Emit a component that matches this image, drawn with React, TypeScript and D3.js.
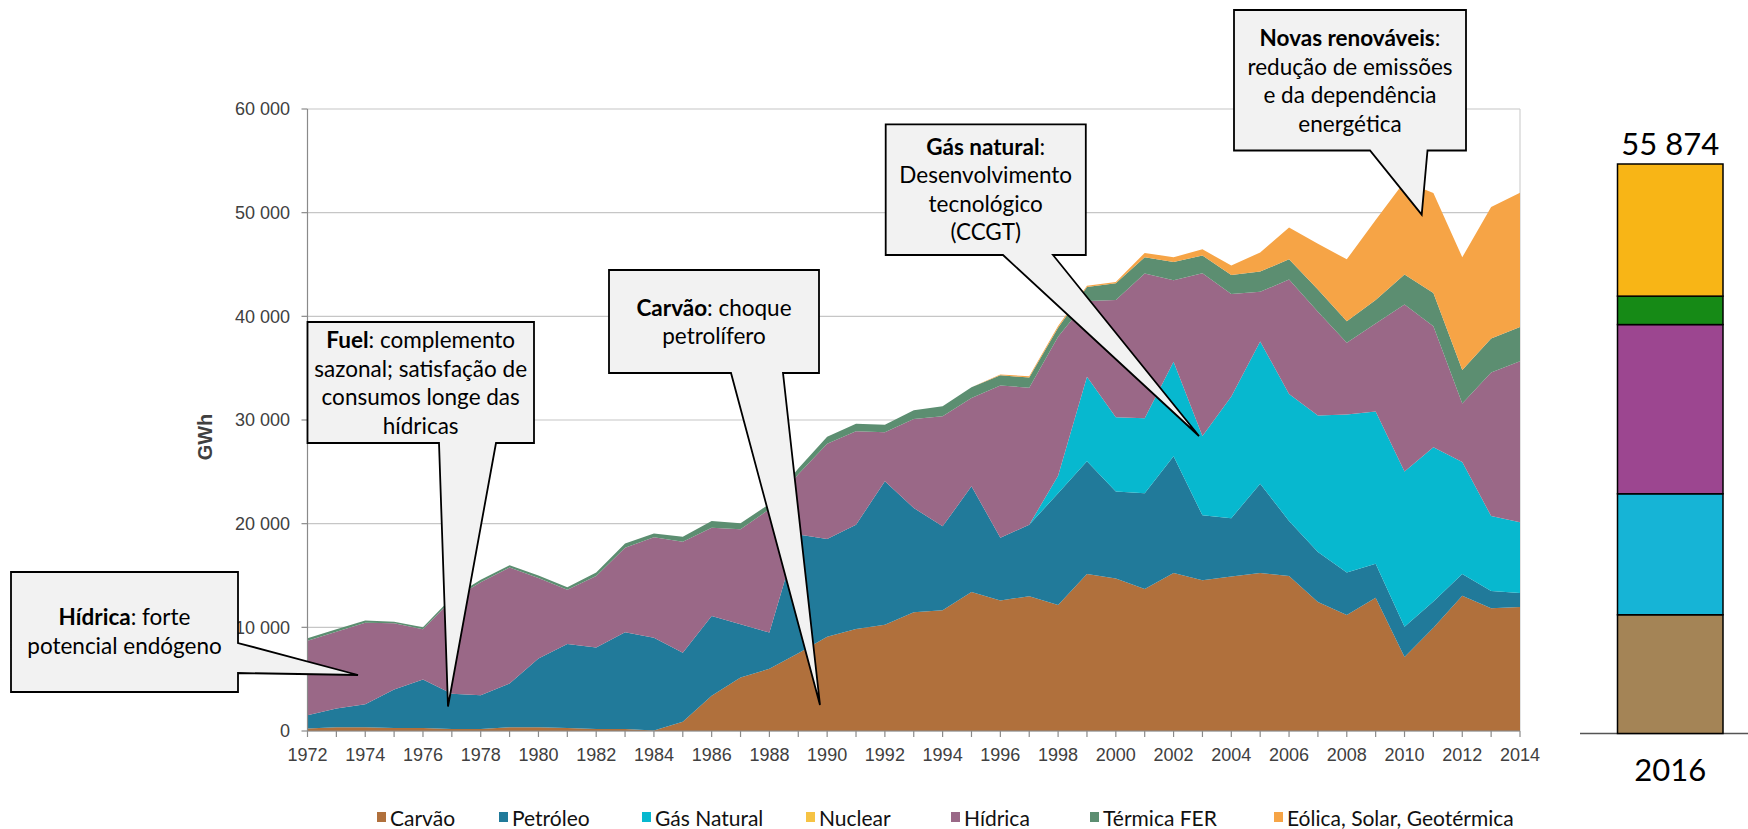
import React from 'react';
import * as d3 from 'd3';

// ---------- DATA ----------
const years = [1972,1973,1974,1975,1976,1977,1978,1979,1980,1981,1982,1983,1984,1985,1986,1987,1988,1989,1990,1991,1992,1993,1994,1995,1996,1997,1998,1999,2000,2001,2002,2003,2004,2005,2006,2007,2008,2009,2010,2011,2012,2013,2014];

const carvao = [250,350,350,300,300,200,200,350,350,300,200,200,50,900,3400,5150,6000,7500,9100,9850,10250,11450,11650,13400,12600,13000,12150,15150,14700,13700,15250,14550,14900,15250,14950,12450,11200,12850,7150,9950,13050,11850,11950];
const petroleo = [1270,1810,2230,3700,4670,3400,3250,4230,6650,8100,7850,9330,8950,6650,7700,5150,3500,11450,9430,10050,13830,10060,8090,10200,6050,6900,10780,10880,8400,9230,11250,6250,5630,8600,5310,4820,4100,3290,2900,2530,2100,1650,1350];
const gasNatural = [0,0,0,0,0,0,0,0,0,0,0,0,0,0,0,0,0,0,0,0,0,0,0,0,0,0,1690,8140,7170,7240,9120,7650,11730,13730,12240,13170,15220,14690,14980,14900,10800,7240,6830];
const nuclear = [0,0,0,0,0,0,0,0,0,0,0,0,0,0,0,0,0,0,0,0,0,0,0,0,0,0,0,0,0,0,0,0,0,0,0,0,0,0,0,0,0,0,0];
const hidrica = [7190,7420,7870,6390,4840,9050,10900,11190,7760,5220,6900,8150,9680,10710,8510,9150,11900,5820,9190,9010,4730,8590,10610,8520,14690,13210,13420,7320,11310,13960,7860,15710,9900,4780,11060,10010,6930,8470,16120,11670,5650,13830,15530];
const termicaFER = [230,230,200,160,190,220,230,230,240,240,350,400,380,480,640,580,500,550,660,740,740,830,970,1030,970,990,860,1330,1620,1560,1750,1700,1820,1960,1940,2130,2070,2280,2880,3200,3220,3280,3300];
const eolicaSolarGeo = [0,0,0,0,0,0,0,0,0,0,0,0,0,0,0,0,0,0,0,0,0,0,0,20,90,120,170,140,100,430,470,600,930,1840,3070,4410,5980,7720,8970,9650,10880,12700,12970];

const seriesNames = ['Carvão','Petróleo','Gás Natural','Nuclear','Hídrica','Térmica FER','Eólica, Solar, Geotérmica'];
const seriesColors = ['#B0703C','#217A9A','#07B8CF','#F6C344','#9A6887','#5C8E71','#F6A446'];

const yTicks = [0,10000,20000,30000,40000,50000,60000];
const xLabelYears = [1972,1974,1976,1978,1980,1982,1984,1986,1988,1990,1992,1994,1996,1998,2000,2002,2004,2006,2008,2010,2012,2014];

// 2016 bar
const bar2016Names = ['Carvão','Gás Natural','Hídrica','Térmica FER','Eólica, Solar, Geotérmica'];
const bar2016Values = [11650,11870,16600,2790,12964];
const bar2016Colors = ['#A48456','#16B4D6','#9C4690','#168A16','#F8B516'];
const bar2016Total = 55874;
const bar2016Label = '2016';

// ---------- LAYOUT ----------
const legendX = [377,499,642,806,951,1090,1274];

type Seg = [string, boolean];
interface Callout {
  box: [number, number, number, number];
  side: 'right' | 'bottom';
  base: [number, number];
  tip: [number, number];
  cx: number;
  baselines: number[];
  lines: Seg[][];
}

const callouts: Callout[] = [
  {
    box: [11, 572, 238, 692], side: 'right', base: [643, 673], tip: [358, 675], cx: 124.5,
    baselines: [625, 654],
    lines: [[['Hídrica', true], [': forte', false]], [['potencial endógeno', false]]],
  },
  {
    box: [307.5, 322, 534, 443], side: 'bottom', base: [439, 496], tip: [448, 706.5], cx: 420.7,
    baselines: [348.3, 376.8, 405.3, 433.8],
    lines: [[['Fuel', true], [': complemento', false]], [['sazonal; satisfação de', false]], [['consumos longe das', false]], [['hídricas', false]]],
  },
  {
    box: [609, 270, 819, 373], side: 'bottom', base: [731, 783], tip: [820, 705], cx: 714,
    baselines: [316, 343.5],
    lines: [[['Carvão', true], [': choque', false]], [['petrolífero', false]]],
  },
  {
    box: [885.7, 124.3, 1085.8, 255], side: 'bottom', base: [1003, 1053], tip: [1199, 436], cx: 985.7,
    baselines: [154.8, 183.2, 211.6, 240],
    lines: [[['Gás natural', true], [':', false]], [['Desenvolvimento', false]], [['tecnológico', false]], [['(CCGT)', false]]],
  },
  {
    box: [1234, 10, 1466, 150.5], side: 'bottom', base: [1370, 1427.5], tip: [1421.7, 214.6], cx: 1350,
    baselines: [46, 74.5, 103, 131.5],
    lines: [[['Novas renováveis', true], [':', false]], [['redução de emissões', false]], [['e da dependência', false]], [['energética', false]]],
  },
];

function calloutPath(c: Callout): string {
  const [x0, y0, x1, y1] = c.box;
  if (c.side === 'right') {
    return `M${x0},${y0}L${x1},${y0}L${x1},${c.base[0]}L${c.tip[0]},${c.tip[1]}L${x1},${c.base[1]}L${x1},${y1}L${x0},${y1}Z`;
  }
  return `M${x0},${y0}L${x1},${y0}L${x1},${y1}L${c.base[1]},${y1}L${c.tip[0]},${c.tip[1]}L${c.base[0]},${y1}L${x0},${y1}Z`;
}

const fmt = (v: number) => d3.format(',')(v).replace(/,/g, ' ');

export default function App() {
  const W = 1748, H = 829;
  const x = d3.scaleLinear().domain([1972, 2014]).range([307.5, 1520]);
  const y = d3.scaleLinear().domain([0, 60000]).range([731, 109]);
  const keys = ['c', 'p', 'g', 'n', 'h', 't', 'e'];
  const cols = [carvao, petroleo, gasNatural, nuclear, hidrica, termicaFER, eolicaSolarGeo];
  const table = years.map((yr, i) => {
    const row: any = { year: yr };
    keys.forEach((k, j) => { row[k] = cols[j][i]; });
    return row;
  });
  const stacked = d3.stack<any>().keys(keys)(table);
  const area = d3.area<any>()
    .x((d) => x(d.data.year))
    .y0((d) => y(d[0]))
    .y1((d) => y(d[1]));

  // bar 2016
  const yBar = d3.scaleLinear().domain([0, bar2016Total]).range([733.5, 164]);
  const barX = d3.scaleBand().domain([bar2016Label]).range([1617.5, 1723]).padding(0);
  let cum = 0;
  const barSegs = bar2016Values.map((v, i) => {
    const s = { y0: cum, y1: cum + v, color: bar2016Colors[i], name: bar2016Names[i] };
    cum += v;
    return s;
  });
  const barCx = (barX(bar2016Label) || 0) + barX.bandwidth() / 2;

  const axisFont = '"Liberation Sans", Arial, sans-serif';
  const calFont = 'Lato, "Open Sans", sans-serif';

  return (
    <svg width={W} height={H} style={{ position: 'absolute', left: 0, top: 0, background: '#fff' }}>
      <rect x={0} y={0} width={W} height={H} fill="#fff" />
      {/* gridlines */}
      {yTicks.map((t) => (
        <line key={'g' + t} x1={x(1972)} x2={x(2014)} y1={y(t)} y2={y(t)} stroke="#C6C6C6" strokeWidth={1.2} />
      ))}
      <line x1={x(2014)} x2={x(2014)} y1={y(60000)} y2={y(0)} stroke="#D0D0D0" strokeWidth={1.2} />
      {/* areas */}
      {stacked.map((s, i) => (
        <path key={keys[i]} d={area(s) || ''} fill={seriesColors[i]} />
      ))}
      {/* axes */}
      <line x1={x(1972)} x2={x(1972)} y1={y(60000)} y2={y(0)} stroke="#8A8A8A" strokeWidth={1.2} />
      <line x1={x(1972)} x2={x(2014)} y1={y(0)} y2={y(0)} stroke="#8A8A8A" strokeWidth={1.2} />
      {yTicks.map((t) => (
        <g key={'yt' + t}>
          <line x1={x(1972) - 6} x2={x(1972)} y1={y(t)} y2={y(t)} stroke="#8A8A8A" strokeWidth={1.2} />
          <text x={290} y={y(t)} dy="0.36em" textAnchor="end" fontFamily={axisFont} fontSize={18} fill="#404040">{fmt(t)}</text>
        </g>
      ))}
      {years.map((yr) => (
        <line key={'xt' + yr} x1={x(yr)} x2={x(yr)} y1={y(0)} y2={y(0) + 6} stroke="#8A8A8A" strokeWidth={1.2} />
      ))}
      {xLabelYears.map((yr) => (
        <text key={'xl' + yr} x={x(yr)} y={761} textAnchor="middle" fontFamily={axisFont} fontSize={18} fill="#404040">{yr}</text>
      ))}
      <text transform="translate(212,437) rotate(-90)" textAnchor="middle" fontFamily={axisFont} fontSize={20} fontWeight="bold" fill="#404040">GWh</text>

      {/* legend */}
      {seriesNames.map((n, i) => (
        <g key={'lg' + i}>
          <rect x={legendX[i]} y={812} width={9} height={10} fill={seriesColors[i]} />
          <text x={legendX[i] + 13} y={826} fontFamily={calFont} fontSize={21} fill="#111">{n}</text>
        </g>
      ))}

      {/* callouts */}
      {callouts.map((c, i) => (
        <g key={'co' + i}>
          <path d={calloutPath(c)} fill="#F2F2F2" stroke="#000" strokeWidth={1.8} strokeLinejoin="miter" />
          {c.lines.map((ln, j) => (
            <text key={j} x={c.cx} y={c.baselines[j]} textAnchor="middle" fontFamily={calFont} fontSize={22.5} fill="#000">
              {ln.map((sg, k) => (
                <tspan key={k} fontWeight={sg[1] ? 'bold' : 'normal'}>{sg[0]}</tspan>
              ))}
            </text>
          ))}
        </g>
      ))}

      {/* 2016 bar */}
      <line x1={1580} x2={1748} y1={yBar(0)} y2={yBar(0)} stroke="#555" strokeWidth={1.5} />
      {barSegs.map((s, i) => (
        <rect key={'b' + i} x={barX(bar2016Label)} width={barX.bandwidth()} y={yBar(s.y1)} height={yBar(s.y0) - yBar(s.y1)} fill={s.color} stroke="#000" strokeWidth={1.5} />
      ))}
      <text x={barCx} y={155} textAnchor="middle" fontFamily={calFont} fontSize={31} fill="#000">{fmt(bar2016Total)}</text>
      <text x={barCx} y={781} textAnchor="middle" fontFamily={calFont} fontSize={31} fill="#000">{bar2016Label}</text>
    </svg>
  );
}
